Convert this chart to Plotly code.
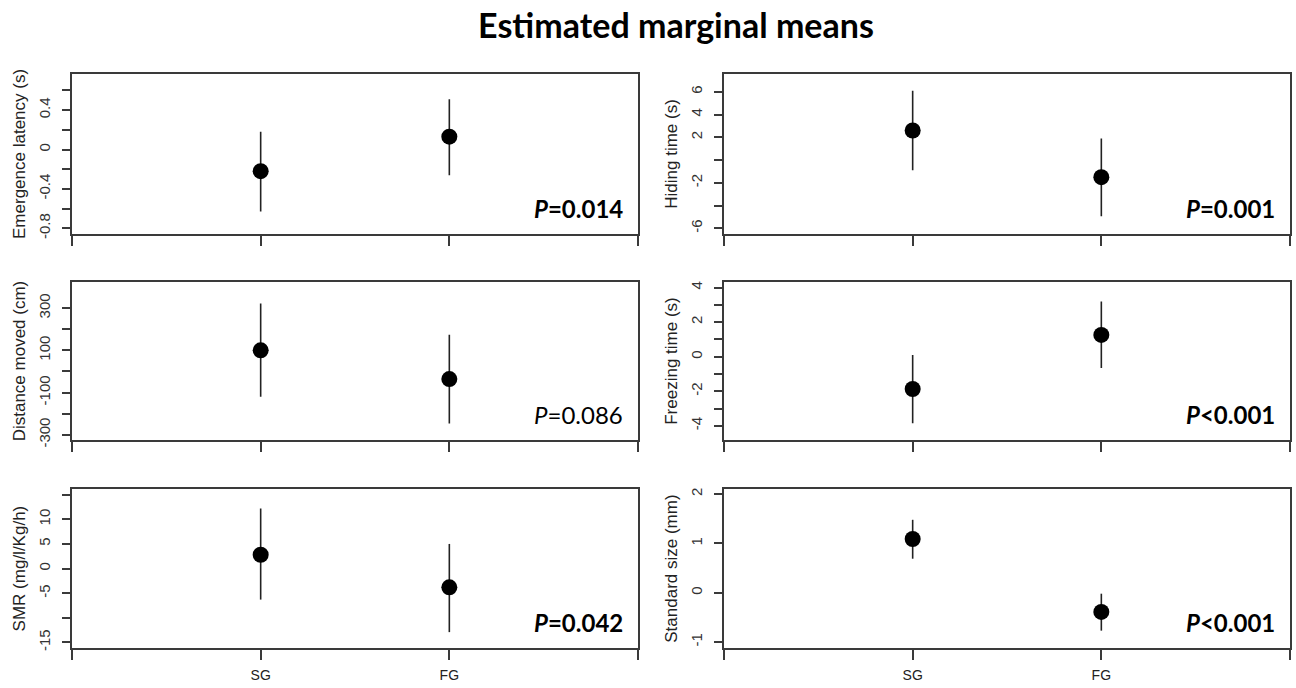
import plotly.graph_objects as go

groups = ["SG", "FG"]

titles = ["Emergence latency (s)", "Hiding time (s)", "Distance moved (cm)",
          "Freezing time (s)", "SMR (mg/l/Kg/h)", "Standard size (mm)"]

means = [[-0.22, 0.13], [2.6, -1.5], [100, -36], [-1.87, 1.26], [2.8, -3.8], [1.09, -0.39]]
lower = [[-0.63, -0.26], [-0.9, -4.93], [-120, -246], [-3.85, -0.65], [-6.3, -12.9], [0.69, -0.77]]
upper = [[0.18, 0.51], [6.1, 1.9], [322, 174], [0.1, 3.2], [12.2, 5.0], [1.48, -0.02]]

y_ranges = [[-0.855, 0.765], [-6.47, 7.55], [-326, 425], [-4.84, 4.34], [-16.1, 16.1], [-1.12, 2.1]]
y_tickvals = [
    [-0.8, -0.6, -0.4, -0.2, 0, 0.2, 0.4, 0.6],
    [-6, -4, -2, 0, 2, 4, 6],
    [-300, -200, -100, 0, 100, 200, 300],
    [-4, -3, -2, -1, 0, 1, 2, 3, 4],
    [-15, -10, -5, 0, 5, 10, 15],
    [-1, 0, 1, 2],
]
y_ticktext = [
    ["-0.8", "", "-0.4", "", "0", "", "0.4", ""],
    ["-6", "", "-2", "", "2", "4", "6"],
    ["-300", "", "-100", "", "100", "", "300"],
    ["-4", "", "-2", "", "0", "", "2", "", "4"],
    ["-15", "", "-5", "0", "5", "10", ""],
    ["-1", "0", "1", "2"],
]
p_values = ["0.014", "0.001", "0.086", "<0.001", "0.042", "<0.001"]
p_bold = [True, True, False, True, True, True]

x_range = [0, 3]
x_tickvals = [0, 1, 2, 3]
x_pos = [i + 1 for i in range(len(groups))]

W, H = 1296, 688
col_px = [(72, 638), (724, 1290)]
row_px = [(74, 235.5), (284, 444.5), (494, 654.5)]

LINE = "#3a3a3a"
fig = go.Figure()

for k in range(6):
    r, c = divmod(k, 2)
    xa = "x" if k == 0 else f"x{k+1}"
    ya = "y" if k == 0 else f"y{k+1}"
    lo, hi, m = lower[k], upper[k], means[k]
    fig.add_trace(go.Scatter(
        x=x_pos, y=m, mode="markers", xaxis=xa, yaxis=ya, showlegend=False,
        marker=dict(size=16, color="black"),
        error_y=dict(type="data", symmetric=False,
                     array=[hi[i] - m[i] for i in range(2)],
                     arrayminus=[m[i] - lo[i] for i in range(2)],
                     width=0, thickness=1.6, color="#222"),
    ))
    x0, x1 = col_px[c]
    t, b = row_px[r]
    dom_x = [x0 / W, x1 / W]
    dom_y = [1 - b / H, 1 - t / H]
    xkey = "xaxis" if k == 0 else f"xaxis{k+1}"
    ykey = "yaxis" if k == 0 else f"yaxis{k+1}"
    fig.layout[xkey] = dict(
        domain=dom_x, anchor=ya, range=x_range, tickvals=x_tickvals,
        ticktext=["", groups[0], groups[1], ""] if r == 2 else ["", "", "", ""],
        showgrid=False, zeroline=False, showline=True, mirror=True,
        linecolor=LINE, linewidth=1.6, ticks="outside", ticklen=10, tickwidth=1.6,
        tickcolor=LINE, ticklabelstandoff=4,
        tickfont=dict(family="Liberation Sans, Arial", size=14, color="#222"),
    )
    fig.layout[ykey] = dict(
        domain=dom_y, anchor=xa, range=y_ranges[k], tickvals=y_tickvals[k],
        ticktext=y_ticktext[k], tickangle=-90,
        showgrid=False, zeroline=False, showline=True, mirror=True,
        linecolor=LINE, linewidth=1.6, ticks="outside", ticklen=8, tickwidth=1.6,
        tickcolor=LINE, ticklabelstandoff=6,
        tickfont=dict(family="Liberation Sans, Arial", size=15, color="#333"),
        title=dict(text=titles[k], standoff=6,
                   font=dict(family="Liberation Sans, Arial", size=17, color="#222")),
    )
    txt = f"<i>P</i>{'=' if not p_values[k].startswith('<') else ''}{p_values[k]}"
    if p_bold[k]:
        txt = f"<b>{txt}</b>"
    fig.add_annotation(
        x=x1 / W - 13 / W, y=1 - (b - 9) / H, xref="paper", yref="paper",
        xanchor="right", yanchor="bottom", text=txt, showarrow=False,
        font=dict(family="Lato, Carlito, sans-serif", size=24, color="black"),
    )

fig.update_layout(
    width=W, height=H, margin=dict(l=0, r=0, t=0, b=0),
    paper_bgcolor="white", plot_bgcolor="white",
    title=dict(text="<b>Estimated marginal means</b>", x=676 / W, xanchor="center",
               y=1 - 26 / H, yanchor="middle",
               font=dict(family="Lato, Carlito, sans-serif", size=34, color="black")),
)

fig.write_html("out.html")
